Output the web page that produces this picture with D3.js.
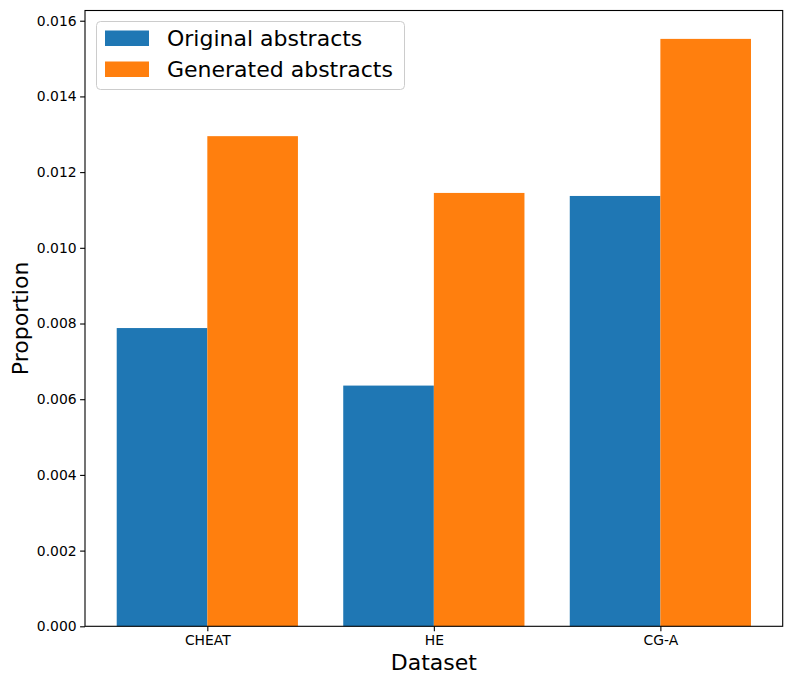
<!DOCTYPE html>
<html><head><meta charset="utf-8">
<script src="https://cdn.jsdelivr.net/npm/d3@7"></script>
<style>body{margin:0;background:#fff;} svg{display:block;font-family:"DejaVu Sans",sans-serif;}</style>
</head><body>
<svg id="c" width="792" height="685"></svg>
<script>
const categories = ["CHEAT", "HE", "CG-A"];
const seriesNames = ["Original abstracts", "Generated abstracts"];
const original = [0.00788, 0.00636, 0.01137];
const generated = [0.01295, 0.01145, 0.01552];
const yTicks = [0, 0.002, 0.004, 0.006, 0.008, 0.010, 0.012, 0.014, 0.016];
const colors = ["#1f77b4", "#ff7f0e"];

const svg = d3.select("#c");
const L = 85, R = 782.7, T = 10.5, B = 626.3;
const x = d3.scaleLinear().domain([-0.54, 2.54]).range([L, R]);
const y = d3.scaleLinear().domain([0, 0.01627]).range([B, T]);
const bw = 0.4;
const series = [original, generated];

series.forEach((vals, s) => {
  svg.append("g").selectAll("rect").data(vals).join("rect")
    .attr("x", (d, i) => x(i + (s === 0 ? -bw : 0)))
    .attr("width", (d, i) => x(i + bw) - x(i))
    .attr("y", d => y(d))
    .attr("height", d => y(0) - y(d))
    .attr("fill", colors[s]);
});

const xAxis = svg.append("g").attr("transform", `translate(0,${B})`)
  .call(d3.axisBottom(x).tickValues(categories.map((c, i) => i)).tickFormat(i => categories[i]).tickSize(4.9).tickPadding(3.5));
const yAxis = svg.append("g").attr("transform", `translate(${L},0)`)
  .call(d3.axisLeft(y).tickValues(yTicks).tickFormat(d3.format(".3f")).tickSize(4.9).tickPadding(3.5));
[xAxis, yAxis].forEach(g => {
  g.select(".domain").remove();
  g.selectAll("text").attr("font-size", "13.9px").attr("fill", "#000").attr("font-family", "DejaVu Sans");
  g.selectAll("line").attr("stroke", "#000").attr("stroke-width", 1.1);
});

svg.append("rect").attr("x", L).attr("y", T).attr("width", R - L).attr("height", B - T)
  .attr("fill", "none").attr("stroke", "#000").attr("stroke-width", 1.1);

svg.append("text").attr("x", (L + R) / 2).attr("y", 670).attr("text-anchor", "middle")
  .attr("font-size", "22px").text("Dataset");
svg.append("text").attr("transform", `translate(28,${(T + B) / 2}) rotate(-90)`).attr("text-anchor", "middle")
  .attr("font-size", "22px").text("Proportion");

// legend
const lg = svg.append("g");
lg.append("rect").attr("x", 96.5).attr("y", 21.5).attr("width", 308).attr("height", 68).attr("rx", 4)
  .attr("fill", "#fff").attr("fill-opacity", 0.8).attr("stroke", "#ccc").attr("stroke-width", 1);
seriesNames.forEach((n, i) => {
  lg.append("rect").attr("x", 105).attr("y", 30.5 + i * 31).attr("width", 44).attr("height", 15.5).attr("fill", colors[i]);
  lg.append("text").attr("x", 167).attr("y", 46 + i * 31).attr("font-size", "22px").text(n);
});
</script>
</body></html>
